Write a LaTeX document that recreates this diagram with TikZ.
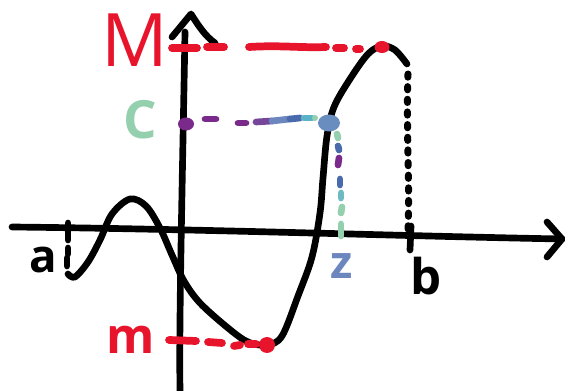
\documentclass[tikz,border=0pt]{standalone}
\usepackage{fontspec}
\setmainfont{Open Sans}
\definecolor{myred}{HTML}{E8142C}
\definecolor{cpurple}{HTML}{7A2A8A}
\definecolor{cblue}{HTML}{4A6AAE}
\definecolor{cteal}{HTML}{5AB3C6}
\definecolor{cgreen}{HTML}{94CFAE}
\definecolor{cslate}{HTML}{6C86BE}
\tikzset{
  ink/.style={line width=3.8pt, line cap=round, line join=round, black},
  reddash/.style={line width=4.4pt, line cap=round, myred},
  cdash/.style={line width=3.8pt, line cap=round},
  blackdots/.style={line width=4pt, line cap=round, dash pattern=on 1.8pt off 5.4pt},
  lbl/.style={inner sep=0pt, font=\bfseries},
}
\begin{document}
\begin{tikzpicture}[x=0.02cm, y=-0.02cm]
\useasboundingbox (0,0) rectangle (565,391);
% axes
\coordinate (xs) at (12,227);
\coordinate (xe) at (562,239);
\coordinate (ys) at (180,391);
\coordinate (ye) at (185,32);
\draw[ink] (xs) .. controls (200,229) and (400,236) .. (xe);
\draw[ink] (547,222) -- (xe) -- (547,257);
\draw[ink] (ys) .. controls (179,320) and (182,200) .. (ye);
\draw[ink] (172,37) -- (191,14) .. controls (198,25) and (205,36) .. (215,43);
% curve
\draw[ink] plot[smooth, tension=0.55] coordinates {
 (68,274) (75,277) (88,262) (100,240) (112,214) (130,199) (146,206) (160,228)
 (172,255) (184,281) (200,303) (228,328) (248,342) (267,345) (282,336)
 (298,296) (312,257) (320,213) (323,178) (327,136) (334,107) (350,79)
 (368,54) (382,46) (395,50) (407,64)};
% dotted black to b
\draw[blackdots] (408,74) .. controls (406,130) and (410,180) .. (408,230);
\draw[ink] (411,226) -- (410,250);
% a tick (dashed)
\draw[ink] (68,223) -- (68,240);
\draw[ink] (68,248) -- (68,254);
\draw[ink] (67,258) -- (67,266);
% M dashed
\draw[reddash] (172,48) -- (197,48);
\draw[reddash] (207,47) -- (224,47);
\draw[reddash] (249,47) .. controls (280,45) and (300,48) .. (326,47);
\draw[reddash] (336,48) -- (344,48);
\draw[reddash] (356,49) -- (360,49);
\fill[myred] (382,47) ellipse (7.5 and 6);
% m dashed
\draw[reddash] (169,340) -- (196,341);
\draw[reddash] (208,342) -- (222,343);
\draw[reddash] (234,346) -- (240,345);
\draw[reddash] (248,344) -- (256,344);
\fill[myred] (267,345) circle (8);
% C dashed
\fill[cpurple] (186,124) ellipse (8 and 6.5);
\draw[cdash, cpurple] (205,119) -- (216,119);
\draw[cdash, cpurple] (238,123) -- (246,123);
\draw[cdash, cpurple!70!cslate] (256,122) -- (272,121);
\draw[cdash, cslate] (272,121) -- (290,119);
\draw[cdash, cblue] (290,119) -- (300,118);
\draw[cdash, cteal] (304,118) -- (312,118);
\fill[cgreen] (315,118) circle (3);
\fill[cslate!85!cteal] (329,123) ellipse (11 and 8.5);
% vertical gradient dots
\draw[cdash, cgreen] (337,134) -- (338,138);
\draw[cdash, cblue] (338,146) -- (339,150);
\draw[cdash, cpurple] (339,158) -- (338,165);
\draw[cdash, cblue] (340,179) -- (340,185);
\draw[cdash, cteal!70!cgreen] (341,193) -- (341,198);
\draw[cdash, cgreen] (342,207) -- (341,213);
\draw[cdash, cgreen] (341,224) -- (341,236);
% labels
\node[lbl, myred, font=\fontsize{42}{42}\selectfont] (Mlab) at (135,40) {M};
\node[lbl, myred, font=\bfseries\fontsize{28}{28}\selectfont] (mlab) at (131,340) {m};
\node[lbl, cgreen, font=\bfseries\fontsize{30}{30}\selectfont] (Clab) at (140,120) {C};
\node[lbl, font=\bfseries\fontsize{26}{26}\selectfont] (alab) at (43,260) {a};
\node[lbl, font=\bfseries\fontsize{28}{28}\selectfont] (blab) at (426,276) {b};
\node[lbl, cslate, font=\bfseries\fontsize{26}{26}\selectfont] (zlab) at (342,266) {z};
\end{tikzpicture}
\end{document}
